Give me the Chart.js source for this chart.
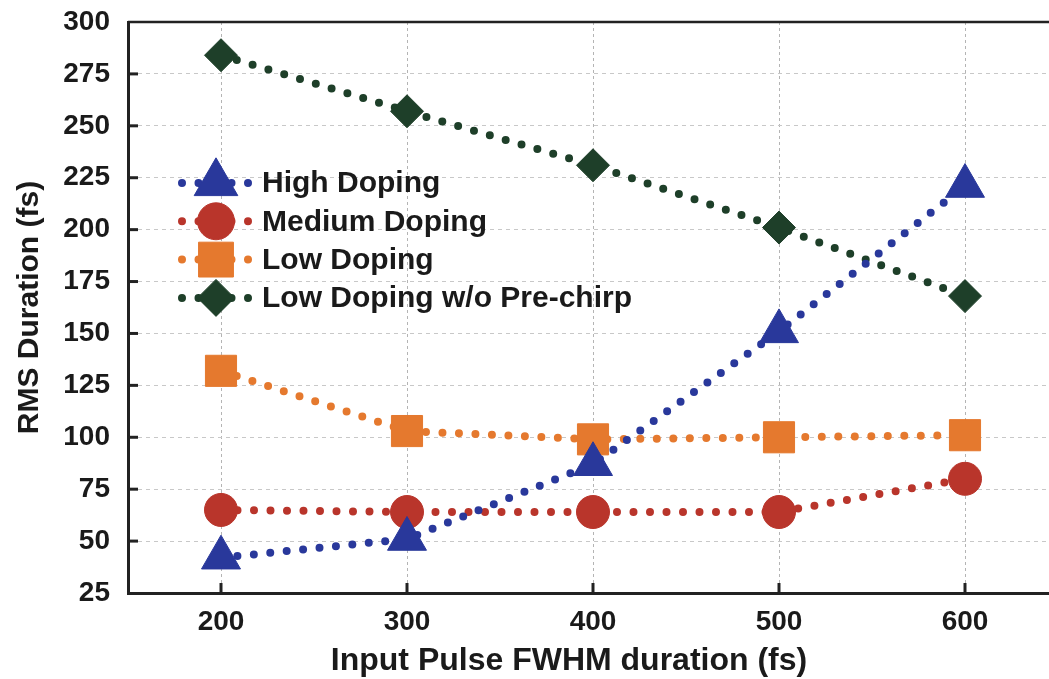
<!DOCTYPE html>
<html>
<head>
<meta charset="utf-8">
<script src="https://cdn.jsdelivr.net/npm/chart.js@4.4.1/dist/chart.umd.min.js"></script>
<style>
  html, body { margin: 0; padding: 0; background: #fff; overflow: hidden; width: 1049px; height: 679px; }
  #wrap { position: absolute; left: 0; top: 0; width: 1070px; height: 679px; }
</style>
</head>
<body>
<div id="wrap"><canvas id="c" width="1070" height="679"></canvas></div>
<script>
// Input pulse widths (fs) and RMS output durations (fs) per doping level
const pulseWidths   = [200, 300, 400, 500, 600];
const highDoping    = [42, 51, 87, 151, 221];
const mediumDoping  = [65, 64, 64, 64, 80];
const lowDoping     = [132, 103, 99, 100, 101];
const lowNoPrechirp = [284, 257, 231, 201, 168];

const seriesNames = ['High Doping', 'Medium Doping', 'Low Doping', 'Low Doping w/o Pre-chirp'];
const xTickValues = [200, 300, 400, 500, 600];
const xTitle = 'Input Pulse FWHM duration (fs)';
const yTitle = 'RMS Duration (fs)';

const FONT = '"Liberation Sans", Arial, Helvetica, sans-serif';
const TEXT = '#1a1a1a';

function series(values) {
  return values.map((v, i) => ({ x: pulseWidths[i], y: v }));
}

function makeDataset(label, values, color, pointStyle, radius) {
  return {
    label,
    data: series(values),
    borderColor: color,
    backgroundColor: color,
    pointBackgroundColor: color,
    pointBorderColor: color,
    pointBorderWidth: 1,
    pointStyle,
    pointRadius: radius,
    pointHoverRadius: radius,
    borderWidth: 8,
    borderDash: [0, 16.5],
    borderCapStyle: 'round',
    tension: 0,
    clip: false
  };
}

const datasets = [
  makeDataset(seriesNames[0], highDoping,    '#29389b', 'triangle', 22.5),
  makeDataset(seriesNames[1], mediumDoping,  '#b9352b', 'circle',   16.5),
  makeDataset(seriesNames[2], lowDoping,     '#e5792e', 'rect',     22),
  makeDataset(seriesNames[3], lowNoPrechirp, '#1e3f29', 'rectRot',  16.5)
];

// Frame: top border and inward tick marks
const framePlugin = {
  id: 'frame',
  beforeDatasetsDraw(chart) {
    const { ctx, chartArea: a, scales } = chart;
    ctx.save();
    ctx.strokeStyle = '#222';
    ctx.lineWidth = 2.5;
    ctx.beginPath();
    ctx.moveTo(a.left, a.top);
    ctx.lineTo(a.right, a.top);
    ctx.stroke();
    ctx.lineWidth = 3;
    scales.y.ticks.forEach(t => {
      if (t.value <= scales.y.min || t.value >= scales.y.max) return;
      const py = scales.y.getPixelForValue(t.value);
      ctx.beginPath();
      ctx.moveTo(a.left, py);
      ctx.lineTo(a.left + 10, py);
      ctx.stroke();
    });
    scales.x.ticks.forEach(t => {
      const px = scales.x.getPixelForValue(t.value);
      ctx.beginPath();
      ctx.moveTo(px, a.bottom);
      ctx.lineTo(px, a.bottom - 10);
      ctx.stroke();
    });
    ctx.restore();
  }
};

// Legend inside the plot, each entry: dotted line sample, marker, label
const legendPlugin = {
  id: 'insetLegend',
  afterDraw(chart) {
    const { ctx, chartArea: a } = chart;
    const x0 = a.left + 54, x1 = a.left + 122, mx = a.left + 88, tx = a.left + 134;
    chart.data.datasets.forEach((ds, i) => {
      const y = a.top + 161 + i * 38.3;
      ctx.save();
      ctx.strokeStyle = ds.borderColor;
      ctx.lineWidth = ds.borderWidth;
      ctx.lineCap = 'round';
      ctx.setLineDash(ds.borderDash);
      ctx.beginPath();
      ctx.moveTo(x0, y);
      ctx.lineTo(x1, y);
      ctx.stroke();
      ctx.restore();

      ctx.save();
      ctx.fillStyle = ds.pointBackgroundColor;
      ctx.strokeStyle = ds.pointBorderColor;
      ctx.lineWidth = 1;
      Chart.helpers.drawPoint(ctx, {
        pointStyle: ds.pointStyle,
        radius: ds.pointRadius * 1.12,
        rotation: 0,
        borderWidth: 1
      }, mx, y);
      ctx.restore();

      ctx.save();
      ctx.fillStyle = TEXT;
      ctx.font = 'bold 30px ' + FONT;
      ctx.textBaseline = 'middle';
      ctx.textAlign = 'left';
      ctx.fillText(ds.label, tx, y + 1);
      ctx.restore();
    });
  }
};

// X axis title
const xTitlePlugin = {
  id: 'xTitle',
  afterDraw(chart) {
    const { ctx } = chart;
    ctx.save();
    ctx.fillStyle = TEXT;
    ctx.font = 'bold 32px ' + FONT;
    ctx.textAlign = 'center';
    ctx.textBaseline = 'middle';
    ctx.fillText(xTitle, 569, 661);
    ctx.restore();
  }
};

new Chart(document.getElementById('c'), {
  type: 'line',
  data: { datasets },
  plugins: [framePlugin, legendPlugin, xTitlePlugin],
  options: {
    responsive: false,
    animation: false,
    layout: { autoPadding: false, padding: { top: 22, right: 12, left: 0, bottom: 0 } },
    plugins: { legend: { display: false }, tooltip: { enabled: false } },
    scales: {
      x: {
        type: 'linear',
        min: 150,
        max: 650,
        afterBuildTicks: axis => { axis.ticks = xTickValues.map(v => ({ value: v })); },
        afterFit: scale => { scale.height = 86; },
        grid: { color: '#b4b4b4', lineWidth: 1, drawTicks: false },
        border: { display: true, color: '#222', width: 3, dash: [3, 3] },
        ticks: {
          color: TEXT,
          padding: 12,
          maxRotation: 0,
          font: { family: FONT, size: 28, weight: 'bold' }
        }
      },
      y: {
        min: 25,
        max: 300,
        afterFit: scale => { scale.width = 128; },
        grid: { color: '#c8c8c8', lineWidth: 1, drawTicks: true, tickLength: 18, tickColor: 'rgba(0,0,0,0)' },
        border: { display: true, color: '#222', width: 3, dash: [4, 4] },
        ticks: {
          stepSize: 25,
          color: TEXT,
          padding: 0,
          font: { family: FONT, size: 28, weight: 'bold' }
        },
        title: {
          display: true,
          text: yTitle,
          color: TEXT,
          padding: { top: 12, bottom: 0 },
          font: { family: FONT, size: 30, weight: 'bold' }
        }
      }
    }
  }
});
</script>
</body>
</html>
